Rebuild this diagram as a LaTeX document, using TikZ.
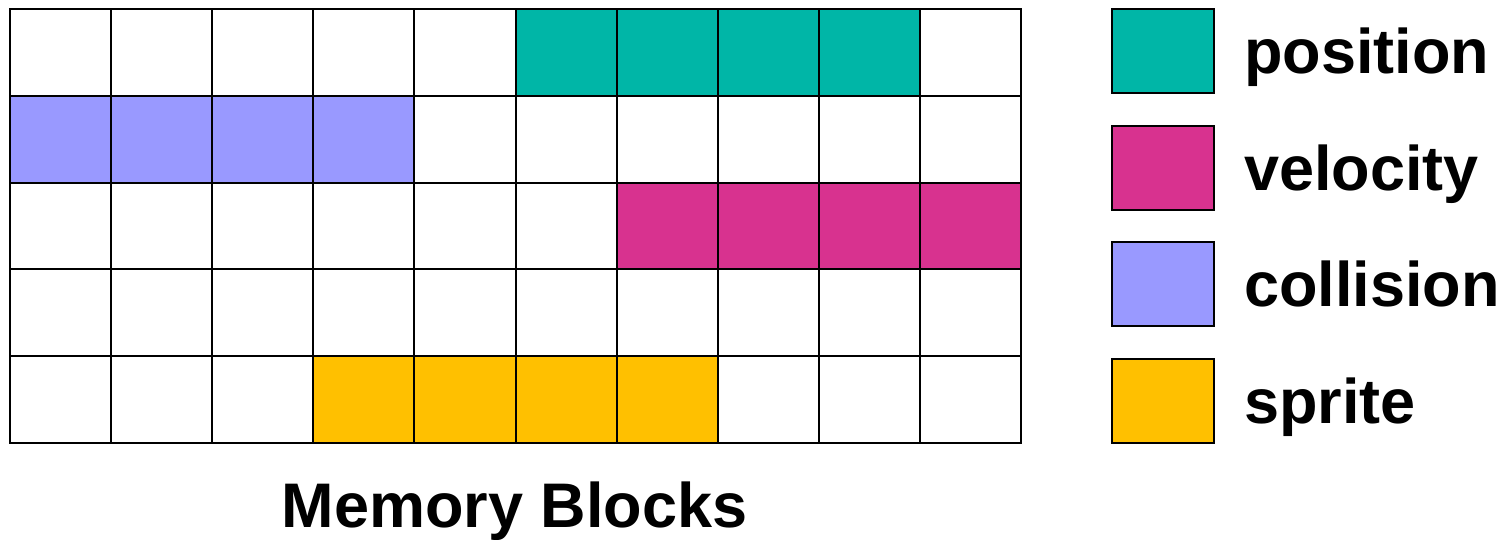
\documentclass[tikz,border=0pt]{standalone}
\usepackage{fontspec}
\setmainfont{Liberation Sans}
\definecolor{cpos}{RGB}{0,182,167}
\definecolor{cvel}{RGB}{216,50,143}
\definecolor{ccol}{RGB}{153,153,255}
\definecolor{cspr}{RGB}{255,192,0}
\begin{document}
\begin{tikzpicture}[x=1pt,y=-1pt,
  cell/.style={draw=black,line width=2pt,minimum width=101.1pt,minimum height=86.8pt,inner sep=0pt,outer sep=0pt,fill=white},
  legbox/.style={draw=black,line width=2pt,minimum width=102pt,minimum height=84pt,inner sep=0pt,outer sep=0pt},
  lbl/.style={font=\fontsize{63}{70}\selectfont\bfseries,inner sep=0pt,anchor=base west}]
\useasboundingbox (0,0) rectangle (1506,539);
% grid cells
\foreach \r in {0,...,4}{
  \foreach \c in {0,...,9}{
    \node[cell] (c\r-\c) at ({10+101.1*(\c+0.5)},{9+86.8*(\r+0.5)}) {};
  }
}
\foreach \c in {5,...,8}{\node[cell,fill=cpos] (p\c) at ({10+101.1*(\c+0.5)},{9+86.8*0.5}) {};}
\foreach \c in {0,...,3}{\node[cell,fill=ccol] (k\c) at ({10+101.1*(\c+0.5)},{9+86.8*1.5}) {};}
\foreach \c in {6,...,9}{\node[cell,fill=cvel] (v\c) at ({10+101.1*(\c+0.5)},{9+86.8*2.5}) {};}
\foreach \c in {3,...,6}{\node[cell,fill=cspr] (s\c) at ({10+101.1*(\c+0.5)},{9+86.8*4.5}) {};}
% legend
\node[legbox,fill=cpos] (lp) at (1162.5,51) {};
\node[legbox,fill=cvel] (lv) at (1162.5,168) {};
\node[legbox,fill=ccol] (lc) at (1162.5,284) {};
\node[legbox,fill=cspr] (ls) at (1162.5,401) {};
\node[lbl] (tp) at (1244,73) {position};
\node[lbl] (tv) at (1244,190) {velocity};
\node[lbl] (tc) at (1244,306) {collision};
\node[lbl] (ts) at (1244,423) {sprite};
\node[lbl,anchor=base] (title) at (514.5,527) {Memory Blocks};
\end{tikzpicture}
\end{document}
